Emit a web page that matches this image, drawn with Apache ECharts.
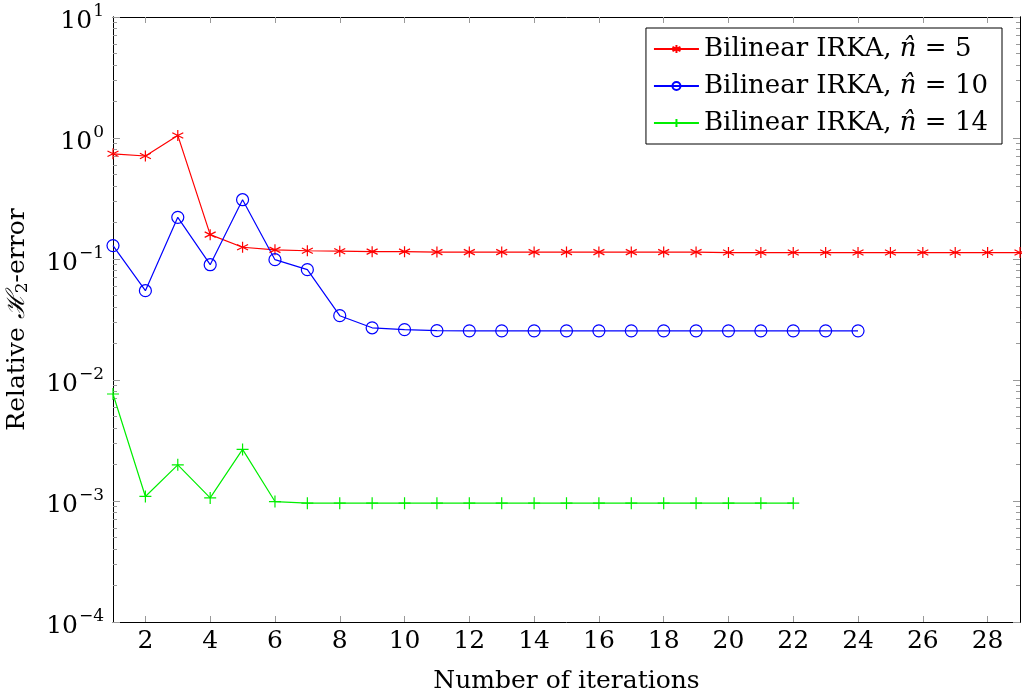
<!DOCTYPE html>
<html>
<head>
<meta charset="utf-8">
<script src="https://cdn.jsdelivr.net/npm/echarts@6/dist/echarts.min.js"></script>
<style>
html,body{margin:0;padding:0;background:#fff;}
#chart{width:1022px;height:700px;}
</style>
</head>
<body>
<div id="chart"></div>
<script>
// iteration counts and relative H2 errors
var itersRed = [1,2,3,4,5,6,7,8,9,10,11,12,13,14,15,16,17,18,19,20,21,22,23,24,25,26,27,28,29];
var errRed = [0.74,0.71,1.05,0.159,0.125,0.119,0.117,0.116,0.115,0.115,0.114,0.114,0.114,0.114,0.114,0.114,0.114,0.114,0.114,0.113,0.113,0.113,0.113,0.113,0.113,0.113,0.113,0.113,0.113];
var itersBlue = [1,2,3,4,5,6,7,8,9,10,11,12,13,14,15,16,17,18,19,20,21,22,23,24];
var errBlue = [0.129,0.0547,0.221,0.0897,0.309,0.0987,0.0816,0.034,0.027,0.0261,0.0256,0.0255,0.0255,0.0255,0.0255,0.0255,0.0255,0.0255,0.0255,0.0255,0.0255,0.0255,0.0255,0.0255];
var itersGreen = [1,2,3,4,5,6,7,8,9,10,11,12,13,14,15,16,17,18,19,20,21,22];
var errGreen = [0.00766,0.00109,0.00199,0.00106,0.00267,0.00099,0.00096,0.00096,0.00096,0.00096,0.00096,0.00096,0.00096,0.00096,0.00096,0.00096,0.00096,0.00096,0.00096,0.00096,0.00096,0.00096];
var seriesNames = ['Bilinear IRKA, n̂ = 5','Bilinear IRKA, n̂ = 10','Bilinear IRKA, n̂ = 14'];
var legendN = ['5','10','14'];
var xTicks = [2,4,6,8,10,12,14,16,18,20,22,24,26,28];
var yTicks = [1e-4,1e-3,1e-2,1e-1,1e0,1e1];

var minorTicks = [];
yTicks.slice(0,-1).forEach(function(d){
    for (var k = 2; k <= 9; k++) minorTicks.push(d*k);
});

function pairs(xs, ys){
    return xs.map(function(x,i){ return [x, ys[i]]; });
}

var font = '"DejaVu Serif", serif';
var fs = 25;
var starPath = 'path://M0,-1L0,1M-0.866,-0.5L0.866,0.5M-0.866,0.5L0.866,-0.5';
var plusPath = 'path://M0,-1L0,1M-1,0L1,0';
var ringPath = 'path://M1,0A1,1,0,1,1,-1,0A1,1,0,1,1,1,0Z';

function yAxisDef(pos, ticks, len, labels){
    return {
        type:'log', logBase:10, min:1e-4, max:10, position:pos,
        axisLine:{show:true, onZero:false, lineStyle:{color:'#000', width:1}},
        axisTick:{show:true, inside:true, length:len, customValues:ticks, lineStyle:{color:'#999', width:1}},
        axisLabel:{show:labels, customValues:yTicks, margin:9, fontFamily:font,
            formatter:function(v){
                var e = Math.round(Math.log10(v));
                return '{b|10}{s|' + (e < 0 ? '\u2212' + (-e) : e) + '}';
            },
            rich:{
                b:{fontSize:fs, fontFamily:font, color:'#000', verticalAlign:'bottom', lineHeight:34},
                s:{fontSize:17, fontFamily:font, color:'#000', verticalAlign:'bottom', lineHeight:34, padding:[0,0,14,1]}
            }},
        splitLine:{show:false},
        name: labels ? 'Relative {i|ℋ}{sub|2}-error' : '',
        nameLocation:'middle', nameGap:82, nameRotate:90,
        nameTextStyle:{fontSize:fs, fontFamily:font, color:'#000',
            rich:{
                i:{fontSize:fs, fontFamily:font, fontStyle:'italic', color:'#000'},
                sub:{fontSize:17, fontFamily:font, color:'#000', padding:[10,0,0,0]}
            }}
    };
}

function xAxisDef(pos, labels){
    return {
        type:'value', min:1, max:29, position:pos,
        axisLine:{show:true, onZero:false, lineStyle:{color:'#000', width:1}},
        axisTick:{show:true, inside:true, length:6, customValues:xTicks, lineStyle:{color:'#999', width:1}},
        axisLabel:{show:labels, customValues:xTicks, fontSize:fs, fontFamily:font, color:'#000', margin:7},
        splitLine:{show:false},
        name: labels ? 'Number of iterations' : '',
        nameLocation:'middle', nameGap:47,
        nameTextStyle:{fontSize:fs, fontFamily:font, color:'#000'}
    };
}

var chart = echarts.init(document.getElementById('chart'), null, {renderer:'canvas'});

var option = {
    backgroundColor:'#fff',
    animation:false,
    grid:{left:113, right:2, top:17, bottom:78, containLabel:false, outerBoundsMode:'none'},
    xAxis:[xAxisDef('bottom', true), xAxisDef('top', false)],
    yAxis:[
        yAxisDef('left', yTicks, 7, true),
        yAxisDef('left', minorTicks, 4, false),
        yAxisDef('right', yTicks, 7, false),
        yAxisDef('right', minorTicks, 4, false)
    ],
    legend:{
        orient:'vertical', right:20, top:28,
        backgroundColor:'#fff', borderColor:'#000', borderWidth:1,
        padding:[8,14,8,7], itemGap:11, itemWidth:45, itemHeight:10,
        data:seriesNames,
        formatter:function(name){
            var i = seriesNames.indexOf(name);
            return '{t|Bilinear IRKA, }{i|n̂}{t| = ' + legendN[i] + '}';
        },
        textStyle:{
            fontSize:26, fontFamily:font, color:'#000',
            rich:{
                t:{fontSize:26, fontFamily:font, color:'#000'},
                i:{fontSize:26, fontFamily:font, fontStyle:'italic', color:'#000'}
            }
        }
    },
    series:[
        {
            name:seriesNames[0], type:'line', data:pairs(itersRed, errRed),
            symbol:starPath, symbolSize:11, showAllSymbol:true,
            lineStyle:{color:'#ff0000', width:1.2},
            itemStyle:{color:'#ff0000', borderColor:'#ff0000', borderWidth:1.2}
        },
        {
            name:seriesNames[1], type:'line', data:pairs(itersBlue, errBlue),
            symbol:ringPath, symbolSize:12, showAllSymbol:true,
            lineStyle:{color:'#0000ff', width:1.2},
            itemStyle:{color:'rgba(0,0,0,0)', borderColor:'#0000ff', borderWidth:1.2}
        },
        {
            name:seriesNames[2], type:'line', data:pairs(itersGreen, errGreen),
            symbol:plusPath, symbolSize:12, showAllSymbol:true,
            lineStyle:{color:'#00ee00', width:1.2},
            itemStyle:{color:'#00ee00', borderColor:'#00ee00', borderWidth:1.2}
        }
    ]
};
chart.setOption(option);
</script>
</body>
</html>
